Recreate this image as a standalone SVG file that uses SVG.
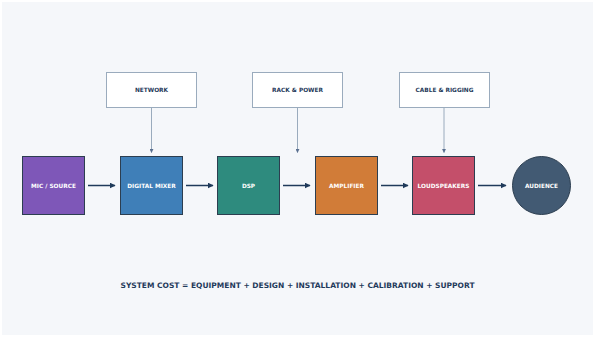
<svg xmlns="http://www.w3.org/2000/svg" width="595" height="337" viewBox="0 0 595 337">
<defs>
<marker id="ah" viewBox="0 0 10 10" refX="9" refY="5" markerWidth="4" markerHeight="4" orient="auto" markerUnits="strokeWidth">
<path d="M0,0 L10,5 L0,10 z" fill="#1f3a5a"/>
</marker>
<marker id="as" viewBox="0 0 10 10" refX="9" refY="5" markerWidth="4" markerHeight="4" orient="auto" markerUnits="strokeWidth">
<path d="M0,0 L10,5 L0,10 z" fill="#5a7090"/>
</marker>
</defs>
<style>
.n{stroke:#2c3e50;stroke-width:1}
.t{fill:#ffffff;font-family:"DejaVu Sans",sans-serif;font-weight:bold;font-size:5.8px;text-anchor:middle;dominant-baseline:central}
.c{fill:#ffffff;stroke:#9aabbd;stroke-width:1}
.ct{fill:#1f3a5a;font-family:"DejaVu Sans",sans-serif;font-weight:bold;font-size:5.8px;text-anchor:middle;dominant-baseline:central}
.f{stroke:#1f3a5a;stroke-width:1.5;fill:none}
.v{stroke:#9aabbd;stroke-width:1;fill:none}
</style>
<rect x="0" y="0" width="595" height="337" fill="#ffffff"/>
<rect x="2" y="2" width="591" height="333" fill="#f5f7fa"/>
<g id="network"><rect class="c" x="106.5" y="72.5" width="90" height="35"/><text class="ct" x="151.5" y="90">NETWORK</text></g>
<g id="rack-power"><rect class="c" x="252.5" y="72.5" width="90" height="35"/><text class="ct" x="297.5" y="90">RACK &amp; POWER</text></g>
<g id="cable-rigging"><rect class="c" x="399.5" y="72.5" width="90" height="35"/><text class="ct" x="444.5" y="90">CABLE &amp; RIGGING</text></g>
<g id="mic-source"><rect class="n" x="22.5" y="156.5" width="62" height="58" fill="#7e57b8"/><text class="t" x="53.5" y="185.5">MIC / SOURCE</text></g>
<g id="digital-mixer"><rect class="n" x="120.5" y="156.5" width="62" height="58" fill="#3f7fb8"/><text class="t" x="151.5" y="185.5">DIGITAL MIXER</text></g>
<g id="dsp"><rect class="n" x="217.5" y="156.5" width="62" height="58" fill="#2e8b7e"/><text class="t" x="248.5" y="185.5">DSP</text></g>
<g id="amplifier"><rect class="n" x="315.5" y="156.5" width="62" height="58" fill="#d17c38"/><text class="t" x="346.5" y="185.5">AMPLIFIER</text></g>
<g id="loudspeakers"><rect class="n" x="412.5" y="156.5" width="62" height="58" fill="#c44f6a"/><text class="t" x="443.5" y="185.5">LOUDSPEAKERS</text></g>
<g id="audience"><circle class="n" cx="541.5" cy="185.5" r="29" fill="#425a73"/><text class="t" x="541.5" y="185.5">AUDIENCE</text></g>
<g id="connectors">
<line class="f" x1="88" y1="185.5" x2="115" y2="185.5" marker-end="url(#ah)"/>
<line class="f" x1="186" y1="185.5" x2="213" y2="185.5" marker-end="url(#ah)"/>
<line class="f" x1="283" y1="185.5" x2="310" y2="185.5" marker-end="url(#ah)"/>
<line class="f" x1="381" y1="185.5" x2="408" y2="185.5" marker-end="url(#ah)"/>
<line class="f" x1="478" y1="185.5" x2="506" y2="185.5" marker-end="url(#ah)"/>
<line class="v" x1="151.5" y1="108" x2="151.5" y2="152.5" marker-end="url(#as)"/>
<line class="v" x1="297.5" y1="108" x2="297.5" y2="152.5" marker-end="url(#as)"/>
<line class="v" x1="444" y1="108" x2="444" y2="152.5" marker-end="url(#as)"/>
</g>
<text x="297.5" y="285" fill="#1f3a5a" font-family="DejaVu Sans, sans-serif" font-weight="bold" font-size="7.5" text-anchor="middle" dominant-baseline="central">SYSTEM COST = EQUIPMENT + DESIGN + INSTALLATION + CALIBRATION + SUPPORT</text>
</svg>
